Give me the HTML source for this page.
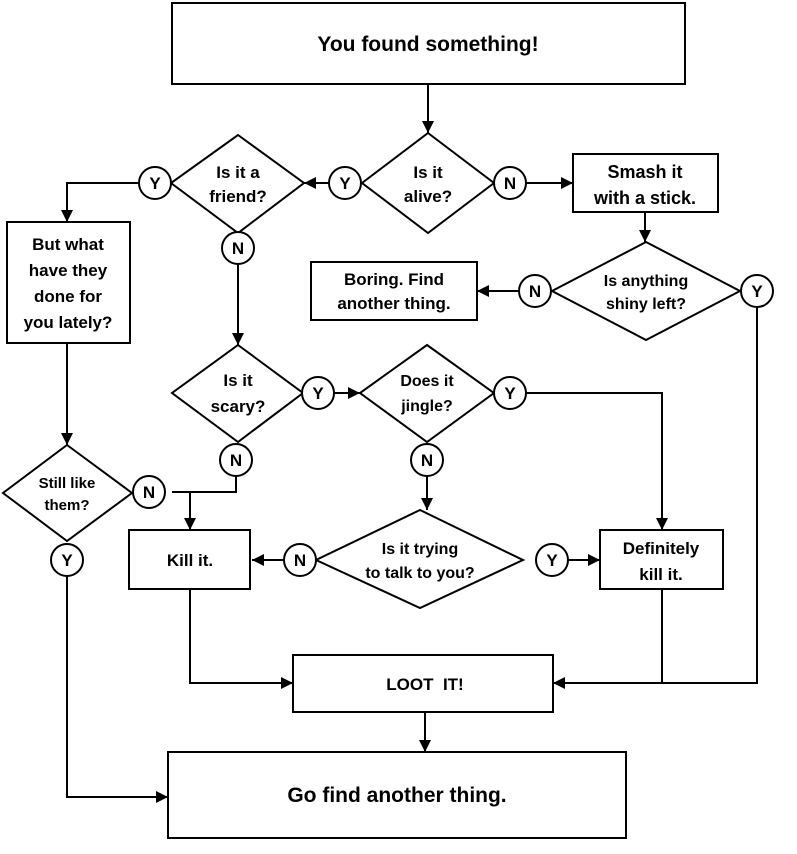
<!DOCTYPE html>
<html><head><meta charset="utf-8"><style>
body{margin:0;background:#fff}
svg text{font-family:"Liberation Sans",Arial,sans-serif;font-weight:bold;fill:#000;text-anchor:middle}
</style></head><body>
<svg width="797" height="849" viewBox="0 0 797 849" xmlns="http://www.w3.org/2000/svg">
<defs><marker id="a" viewBox="0 0 10 10" refX="10" refY="5" markerWidth="10" markerHeight="10" markerUnits="userSpaceOnUse" orient="auto"><path d="M0,0 L10,5 L0,10z" fill="#000"/></marker>
<marker id="b" viewBox="0 0 10 10" refX="10" refY="5" markerWidth="20" markerHeight="12" markerUnits="userSpaceOnUse" orient="auto"><path d="M0,0 L10,5 L0,10z" fill="#000"/></marker></defs>
<g fill="none" stroke="#000" stroke-width="2">
<rect x="172" y="3" width="513" height="81"/>
<rect x="573" y="154" width="145" height="58"/>
<rect x="311" y="262" width="166" height="58"/>
<rect x="7" y="222" width="123" height="121"/>
<rect x="129" y="530" width="121" height="59"/>
<rect x="600" y="530" width="123" height="59"/>
<rect x="293" y="655" width="260" height="57"/>
<rect x="168" y="752" width="458" height="86"/>
<polygon points="428,133 494,183 428,233 362,183"/>
<polygon points="238,135 304,183 238,233 171,183"/>
<polygon points="646,242 740,291 646,340 552,291"/>
<polygon points="238,345 303,393 238,442 172,393"/>
<polygon points="427,345 494,393 427,442 360,393"/>
<polygon points="420,510 523,560 420,608 316,560"/>
<polygon points="67,445 132,493 67,541 3,493"/>
<g marker-end="url(#b)">
<path d="M428,84 V133"/>
<path d="M526,183 H573"/>
<path d="M645,212 V242"/>
<path d="M519,291 H477"/>
<path d="M329,183 H304"/>
<path d="M139,183 H67 V222"/>
<path d="M238,264 V345"/>
<path d="M334,393 H360"/>
<path d="M526,393 H662 V530"/>
<path d="M427,476 V510"/>
<path d="M236,476 V492 H172 M190,492 V530"/>
<path d="M284,560 H252"/>
<path d="M568,560 H600"/>
<path d="M67,343 V445"/>
<path d="M67,576 V797 H168"/>
<path d="M190,589 V683 H293"/>
<path d="M757,307 V683 H553"/>
<path d="M425,712 V752"/>
</g>
<path d="M662,589 V683"/>
<path d="M190,492 V492"/>
<g fill="#fff">
<circle cx="510" cy="183" r="16"/><circle cx="345" cy="183" r="16"/><circle cx="155" cy="183" r="16"/>
<circle cx="238" cy="248" r="16"/><circle cx="535" cy="291" r="16"/><circle cx="757" cy="291" r="16"/>
<circle cx="318" cy="393" r="16"/><circle cx="510" cy="393" r="16"/>
<circle cx="236" cy="460" r="16"/><circle cx="427" cy="460" r="16"/>
<circle cx="149" cy="492" r="16"/><circle cx="67" cy="560" r="16"/>
<circle cx="300" cy="560" r="16"/><circle cx="552" cy="560" r="16"/>
</g></g>
<g font-size="17">
<text x="510" y="189">N</text><text x="345" y="189">Y</text><text x="155" y="189">Y</text>
<text x="238" y="254">N</text><text x="535" y="297">N</text><text x="757" y="297">Y</text>
<text x="318" y="399">Y</text><text x="510" y="399">Y</text>
<text x="236" y="466">N</text><text x="427" y="466">N</text>
<text x="149" y="498">N</text><text x="67" y="566">Y</text>
<text x="300" y="566">N</text><text x="552" y="566">Y</text>
</g>
<text x="428" y="51" font-size="21">You found something!</text>
<g font-size="17">
<text x="428" y="178">Is it</text><text x="428" y="202">alive?</text>
<text x="238" y="178">Is it a</text><text x="238" y="202">friend?</text>
<text x="645" y="178" font-size="18">Smash it</text><text x="645" y="204" font-size="18">with a stick.</text>
<text x="394" y="285">Boring. Find</text><text x="394" y="309">another thing.</text>
<text x="646" y="286" font-size="16">Is anything</text><text x="646" y="309" font-size="16">shiny left?</text>
<text x="68" y="250">But what</text><text x="68" y="276">have they</text><text x="68" y="302">done for</text><text x="68" y="328">you lately?</text>
<text x="238" y="386">Is it</text><text x="238" y="412">scary?</text>
<text x="427" y="386" font-size="16">Does it</text><text x="427" y="411" font-size="16">jingle?</text>
<text x="67" y="488" font-size="15">Still like</text><text x="67" y="510" font-size="15">them?</text>
<text x="190" y="566">Kill it.</text>
<text x="420" y="554" font-size="16">Is it trying</text><text x="420" y="578" font-size="16">to talk to you?</text>
<text x="661" y="554">Definitely</text><text x="661" y="580">kill it.</text>
<text x="425" y="690">LOOT&#160; IT!</text>
<text x="397" y="802" font-size="21">Go find another thing.</text>
</g>
</svg>
</body></html>
